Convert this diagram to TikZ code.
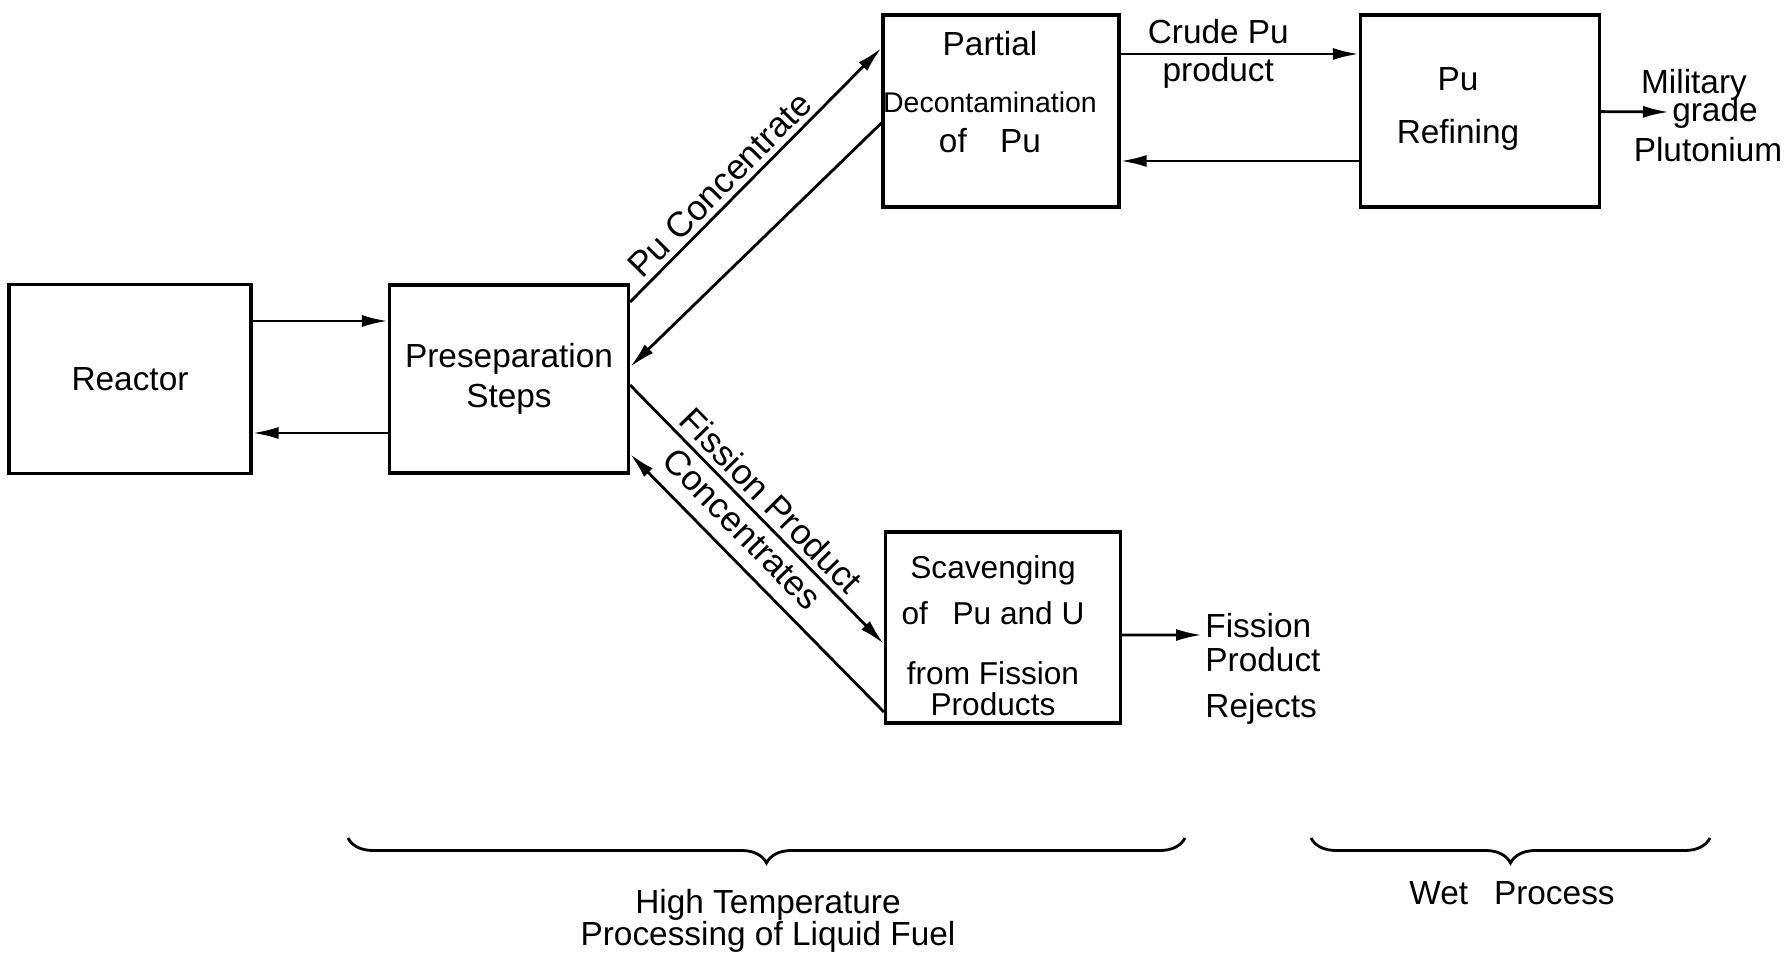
\documentclass[tikz,border=0pt]{standalone}
\usepackage{fontspec}
\setmainfont{Liberation Sans}
\usetikzlibrary{arrows.meta,decorations.pathreplacing}

\begin{document}
\begin{tikzpicture}[x=0.1mm, y=-0.1mm, >={Latex[length=2.6mm,width=1.2mm]},
  every node/.style={font=\fontsize{9.5}{11.5}\selectfont},
  box/.style={draw, line width=0.9pt, align=center, inner sep=0pt},
  flow/.style={->, line width=0.8pt},
  brc/.style={decorate, decoration={brace, amplitude=2.5mm}, line width=0.8pt}]
  \useasboundingbox (0,0) rectangle (1787,961);
  % Kasser
  \node[box, minimum width=24.2mm, minimum height=18.9mm] (reactor) at (130,379) {Reactor};
  \node[box, minimum width=23.9mm, minimum height=18.8mm] (presep) at (509,379) {Preseparation\\Steps};
  \node[box, minimum width=23.6mm, minimum height=19.2mm] (partial) at (1001,111) {};
  \node[align=center] (partialtxt) at (990,92)
    {Partial\\[4.7pt]{\fontsize{8.1}{9}\selectfont Decontamination}\\of\quad Pu};
  \node[box, minimum width=23.9mm, minimum height=19.2mm] (refining) at (1480,111) {};
  \node[align=center] (refiningtxt) at (1458,109) {Pu\\[3.8pt]Refining};
  \node[box, minimum width=23.5mm, minimum height=19.1mm] (scav) at (1003,627.5) {};
  \node[align=center, font=\fontsize{9}{11.5}\selectfont] (scavtxt) at (993,636)
    {Scavenging\\[1.5pt]of\enspace\ Pu and U\\[5.5pt]from Fission\\[-2.5pt]Products};
  % Reactor <-> Preseparation
  \draw[flow] ([yshift=5.8mm]reactor.east) -- ([yshift=5.8mm]presep.west);
  \draw[flow] ([yshift=-5.4mm]presep.west) -- ([yshift=-5.4mm]reactor.east);
  % Pu gren
  \draw[flow] ([yshift=7.7mm]presep.east) --
    node[pos=0.41, above, sloped, inner sep=1.5pt, font=\fontsize{10}{12}\selectfont] (puconc) {Pu Concentrate}
    ([yshift=6.3mm]partial.west);
  \draw[flow] ([yshift=-1.2mm]partial.west) -- ([yshift=1.2mm]presep.east);
  \draw[flow] ([yshift=5.7mm]partial.east) --
    node[pos=0.41, align=center, font=\fontsize{9.5}{10.8}\selectfont] (crude) {Crude Pu\\product}
    ([yshift=5.7mm]refining.west);
  \draw[flow] ([yshift=-5mm]refining.west) -- ([yshift=-5mm]partial.east);
  \coordinate (pluout) at (1669,112);
  \draw[flow] (refining) -- (pluout);
  \node (milit) at (1694,85) {Military};
  \node (grade) at (1715,113) {grade};
  \node (plut) at (1708,150) {Plutonium};
  % Fissionsprodukt gren
  \draw[flow] ([yshift=-0.6mm]presep.east) --
    node[sloped, align=center, font=\fontsize{10}{11.5}\selectfont] (fpconc) {Fission Product\\Concentrates}
    ([yshift=-1.65mm]scav.west);
  \draw[flow] ([yshift=-8.45mm]scav.west) -- ([yshift=-7.5mm]presep.east);
  \coordinate (rejout) at (1202,635);
  \draw[flow] ([yshift=-0.75mm]scav.east) -- (rejout);
  \node[anchor=west, align=left] (rejects) at (1193,669) {Fission\\[-1.9pt]Product\\[1.8pt]Rejects};
  % Klammer
  \draw[brc] (1185,838) -- (348,838);
  \draw[brc] (1710,838) -- (1311,838);
  \node[align=center] (hitemp) at (768,921) {High Temperature\\[-2.5pt]Processing of Liquid Fuel};
  \node (wet) at (1512,893) {Wet\enspace\ Process};
\end{tikzpicture}
\end{document}
